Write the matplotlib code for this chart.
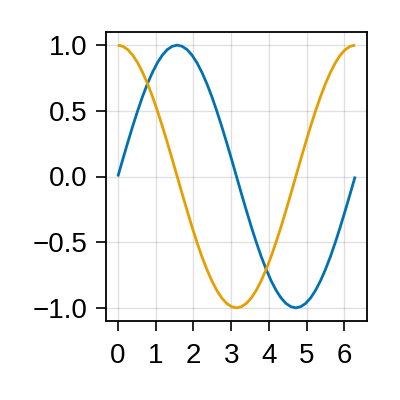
import matplotlib.pyplot as plt

# values (sin and cos over 0..2pi)
x = [0.0, 0.131, 0.262, 0.393, 0.524, 0.654, 0.785, 0.916, 1.047, 1.178,
     1.309, 1.440, 1.571, 1.702, 1.833, 1.963, 2.094, 2.225, 2.356, 2.487,
     2.618, 2.749, 2.880, 3.011, 3.142, 3.272, 3.403, 3.534, 3.665, 3.796,
     3.927, 4.058, 4.189, 4.320, 4.451, 4.581, 4.712, 4.843, 4.974, 5.105,
     5.236, 5.367, 5.498, 5.629, 5.760, 5.890, 6.021, 6.152, 6.283]
blue_y = [0.0, 0.131, 0.259, 0.383, 0.5, 0.609, 0.707, 0.793, 0.866, 0.924,
          0.966, 0.991, 1.0, 0.991, 0.966, 0.924, 0.866, 0.793, 0.707, 0.609,
          0.5, 0.383, 0.259, 0.131, 0.0, -0.131, -0.259, -0.383, -0.5, -0.609,
          -0.707, -0.793, -0.866, -0.924, -0.966, -0.991, -1.0, -0.991, -0.966,
          -0.924, -0.866, -0.793, -0.707, -0.609, -0.5, -0.383, -0.259, -0.131, 0.0]
orange_y = [1.0, 0.991, 0.966, 0.924, 0.866, 0.793, 0.707, 0.609, 0.5, 0.383,
            0.259, 0.131, 0.0, -0.131, -0.259, -0.383, -0.5, -0.609, -0.707,
            -0.793, -0.866, -0.924, -0.966, -0.991, -1.0, -0.991, -0.966, -0.924,
            -0.866, -0.793, -0.707, -0.609, -0.5, -0.383, -0.259, -0.131, 0.0,
            0.131, 0.259, 0.383, 0.5, 0.609, 0.707, 0.793, 0.866, 0.924, 0.966,
            0.991, 1.0]
xticks = [0, 1, 2, 3, 4, 5, 6]
yticks = [-1.0, -0.5, 0.0, 0.5, 1.0]
ytick_labels = ["\u22121.0", "\u22120.5", "0.0", "0.5", "1.0"]

plt.rcParams['font.family'] = ['Liberation Sans', 'DejaVu Sans']

fig = plt.figure(figsize=(4, 4), dpi=100)
ax = fig.add_axes([0.265, 0.1975, 0.6525, 0.7225])

ax.plot(x, blue_y, color='#0072B2', linewidth=2.0, solid_capstyle='butt')
ax.plot(x, orange_y, color='#E69F00', linewidth=2.0, solid_capstyle='butt')

ax.set_xlim(-0.314, 6.597)
ax.set_ylim(-1.1, 1.1)
ax.set_xticks(xticks)
ax.set_yticks(yticks)
ax.set_yticklabels(ytick_labels)
ax.grid(True, color='black', alpha=0.12, linewidth=1.0)
ax.set_axisbelow(True)

ax.tick_params(direction='out', length=7, width=1.2, labelsize=20)
ax.tick_params(axis='x', pad=9)
ax.tick_params(axis='y', pad=6)
for s in ax.spines.values():
    s.set_linewidth(1.3)

fig.savefig('out.png', dpi=100)
